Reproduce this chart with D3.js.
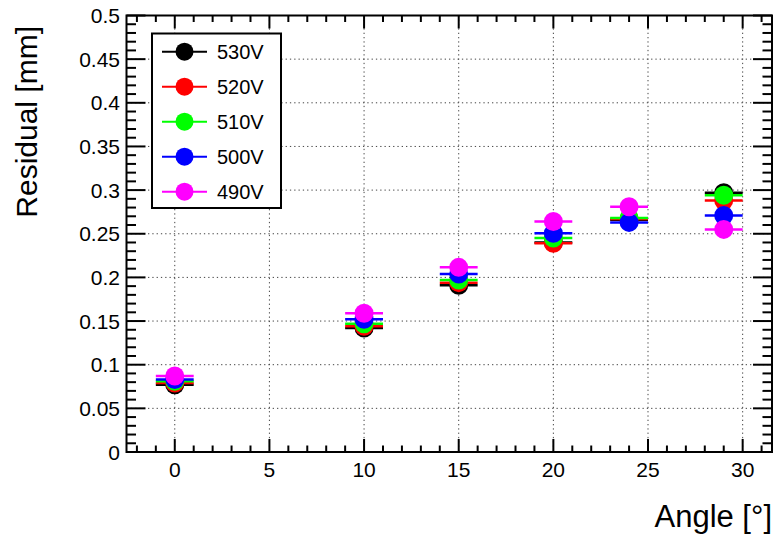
<!DOCTYPE html>
<html>
<head>
<meta charset="utf-8">
<script src="https://cdn.jsdelivr.net/npm/d3@7"></script>
<style>
  html, body { margin: 0; padding: 0; background: #fff; }
  svg { display: block; font-family: "Liberation Sans", Arial, Helvetica, sans-serif; }
</style>
</head>
<body>
<div id="vis"></div>
<script>
// angle of the points [deg] and half-width of the horizontal bars
const angles = [0, 10, 15, 20, 24, 29];
const angleErr = [1, 1, 1, 1, 1, 1];

// residuals [mm] per voltage
const res530 = [0.077, 0.142, 0.191, 0.240, 0.266, 0.297];
const res520 = [0.079, 0.144, 0.194, 0.239, 0.267, 0.288];
const res510 = [0.081, 0.147, 0.197, 0.245, 0.268, 0.294];
const res500 = [0.083, 0.152, 0.204, 0.2505, 0.263, 0.271];
const res490 = [0.087, 0.159, 0.2115, 0.264, 0.281, 0.255];

const seriesNames = ["530V", "520V", "510V", "500V", "490V"];
const seriesColors = ["#000000", "#ff0000", "#00ff00", "#0000ff", "#ff00ff"];
const seriesValues = [res530, res520, res510, res500, res490];

const xTicks = [0, 5, 10, 15, 20, 25, 30];
const yTicks = [0, 0.05, 0.1, 0.15, 0.2, 0.25, 0.3, 0.35, 0.4, 0.45, 0.5];

const width = 775, height = 534;
const frameL = 126.5, frameR = 772, frameT = 15.5, frameB = 452;

const svg = d3.select("#vis").append("svg")
    .attr("width", width)
    .attr("height", height);

const x = d3.scaleLinear().domain([-2.55, 31.55]).range([frameL, frameR]);
const y = d3.scaleLinear().domain([0, 0.5]).range([frameB, frameT]);

// grid
const grid = svg.append("g")
    .attr("stroke", "#444")
    .attr("stroke-width", 1)
    .attr("stroke-dasharray", "1.3,3");
grid.selectAll("line.gx")
    .data(xTicks)
    .enter().append("line")
    .attr("x1", d => x(d)).attr("x2", d => x(d))
    .attr("y1", frameT).attr("y2", frameB);
grid.selectAll("line.gy")
    .data(yTicks.filter(d => d > 0 && d < 0.5))
    .enter().append("line")
    .attr("x1", frameL).attr("x2", frameR)
    .attr("y1", d => y(d)).attr("y2", d => y(d));

// ticks (ROOT style, on all four sides)
const xMinor = d3.range(-2, 32, 1);
const yMinor = d3.range(0, 0.501, 0.01);
const ticks = svg.append("g").attr("stroke", "#000").attr("stroke-width", 2);
xMinor.forEach(v => {
    const len = v % 5 === 0 ? 13 : 6.5;
    ticks.append("line").attr("x1", x(v)).attr("x2", x(v)).attr("y1", frameB).attr("y2", frameB - len);
    ticks.append("line").attr("x1", x(v)).attr("x2", x(v)).attr("y1", frameT).attr("y2", frameT + len);
});
yMinor.forEach((v, i) => {
    const len = i % 5 === 0 ? 19 : 9.5;
    ticks.append("line").attr("x1", frameL).attr("x2", frameL + len).attr("y1", y(v)).attr("y2", y(v));
    ticks.append("line").attr("x1", frameR).attr("x2", frameR - len).attr("y1", y(v)).attr("y2", y(v));
});

// frame
svg.append("rect")
    .attr("x", frameL).attr("y", frameT)
    .attr("width", frameR - frameL).attr("height", frameB - frameT)
    .attr("fill", "none").attr("stroke", "#000").attr("stroke-width", 2);

// tick labels
svg.selectAll("text.xl")
    .data(xTicks)
    .enter().append("text")
    .attr("x", d => x(d)).attr("y", 477)
    .attr("text-anchor", "middle")
    .style("font-size", "21px")
    .text(d => d);
svg.selectAll("text.yl")
    .data(yTicks)
    .enter().append("text")
    .attr("x", 120).attr("y", d => y(d) + 7.5)
    .attr("text-anchor", "end")
    .style("font-size", "21px")
    .text(d => d3.format("~g")(d));

// axis titles
svg.append("text")
    .attr("transform", "translate(37,26) rotate(-90)")
    .attr("text-anchor", "end")
    .style("font-size", "30px")
    .text("Residual [mm]");
svg.append("text")
    .attr("x", 772).attr("y", 527)
    .attr("text-anchor", "end")
    .style("font-size", "31px")
    .text("Angle [°]");

// data: error bars then markers, series by series
seriesValues.forEach((vals, s) => {
    const pts = angles.map((a, i) => ({ a: a, e: angleErr[i], v: vals[i] }));
    const g = svg.append("g");
    g.selectAll("line")
        .data(pts)
        .enter().append("line")
        .attr("x1", d => x(d.a - d.e)).attr("x2", d => x(d.a + d.e))
        .attr("y1", d => y(d.v)).attr("y2", d => y(d.v))
        .attr("stroke", seriesColors[s]).attr("stroke-width", 2.5);
    g.selectAll("circle")
        .data(pts)
        .enter().append("circle")
        .attr("cx", d => x(d.a)).attr("cy", d => y(d.v))
        .attr("r", 9.5)
        .attr("fill", seriesColors[s]);
});

// legend
const legend = svg.append("g");
legend.append("rect")
    .attr("x", 152).attr("y", 33.5)
    .attr("width", 129).attr("height", 174.5)
    .attr("fill", "#fff").attr("stroke", "#000").attr("stroke-width", 2);
seriesNames.forEach((name, i) => {
    const cy = 51.7 + i * 35;
    legend.append("line")
        .attr("x1", 162).attr("x2", 207).attr("y1", cy).attr("y2", cy)
        .attr("stroke", seriesColors[i]).attr("stroke-width", 2);
    legend.append("circle")
        .attr("cx", 184.5).attr("cy", cy).attr("r", 9)
        .attr("fill", seriesColors[i]);
    legend.append("text")
        .attr("x", 217).attr("y", cy + 7)
        .style("font-size", "20px")
        .text(name);
});
</script>
</body>
</html>
